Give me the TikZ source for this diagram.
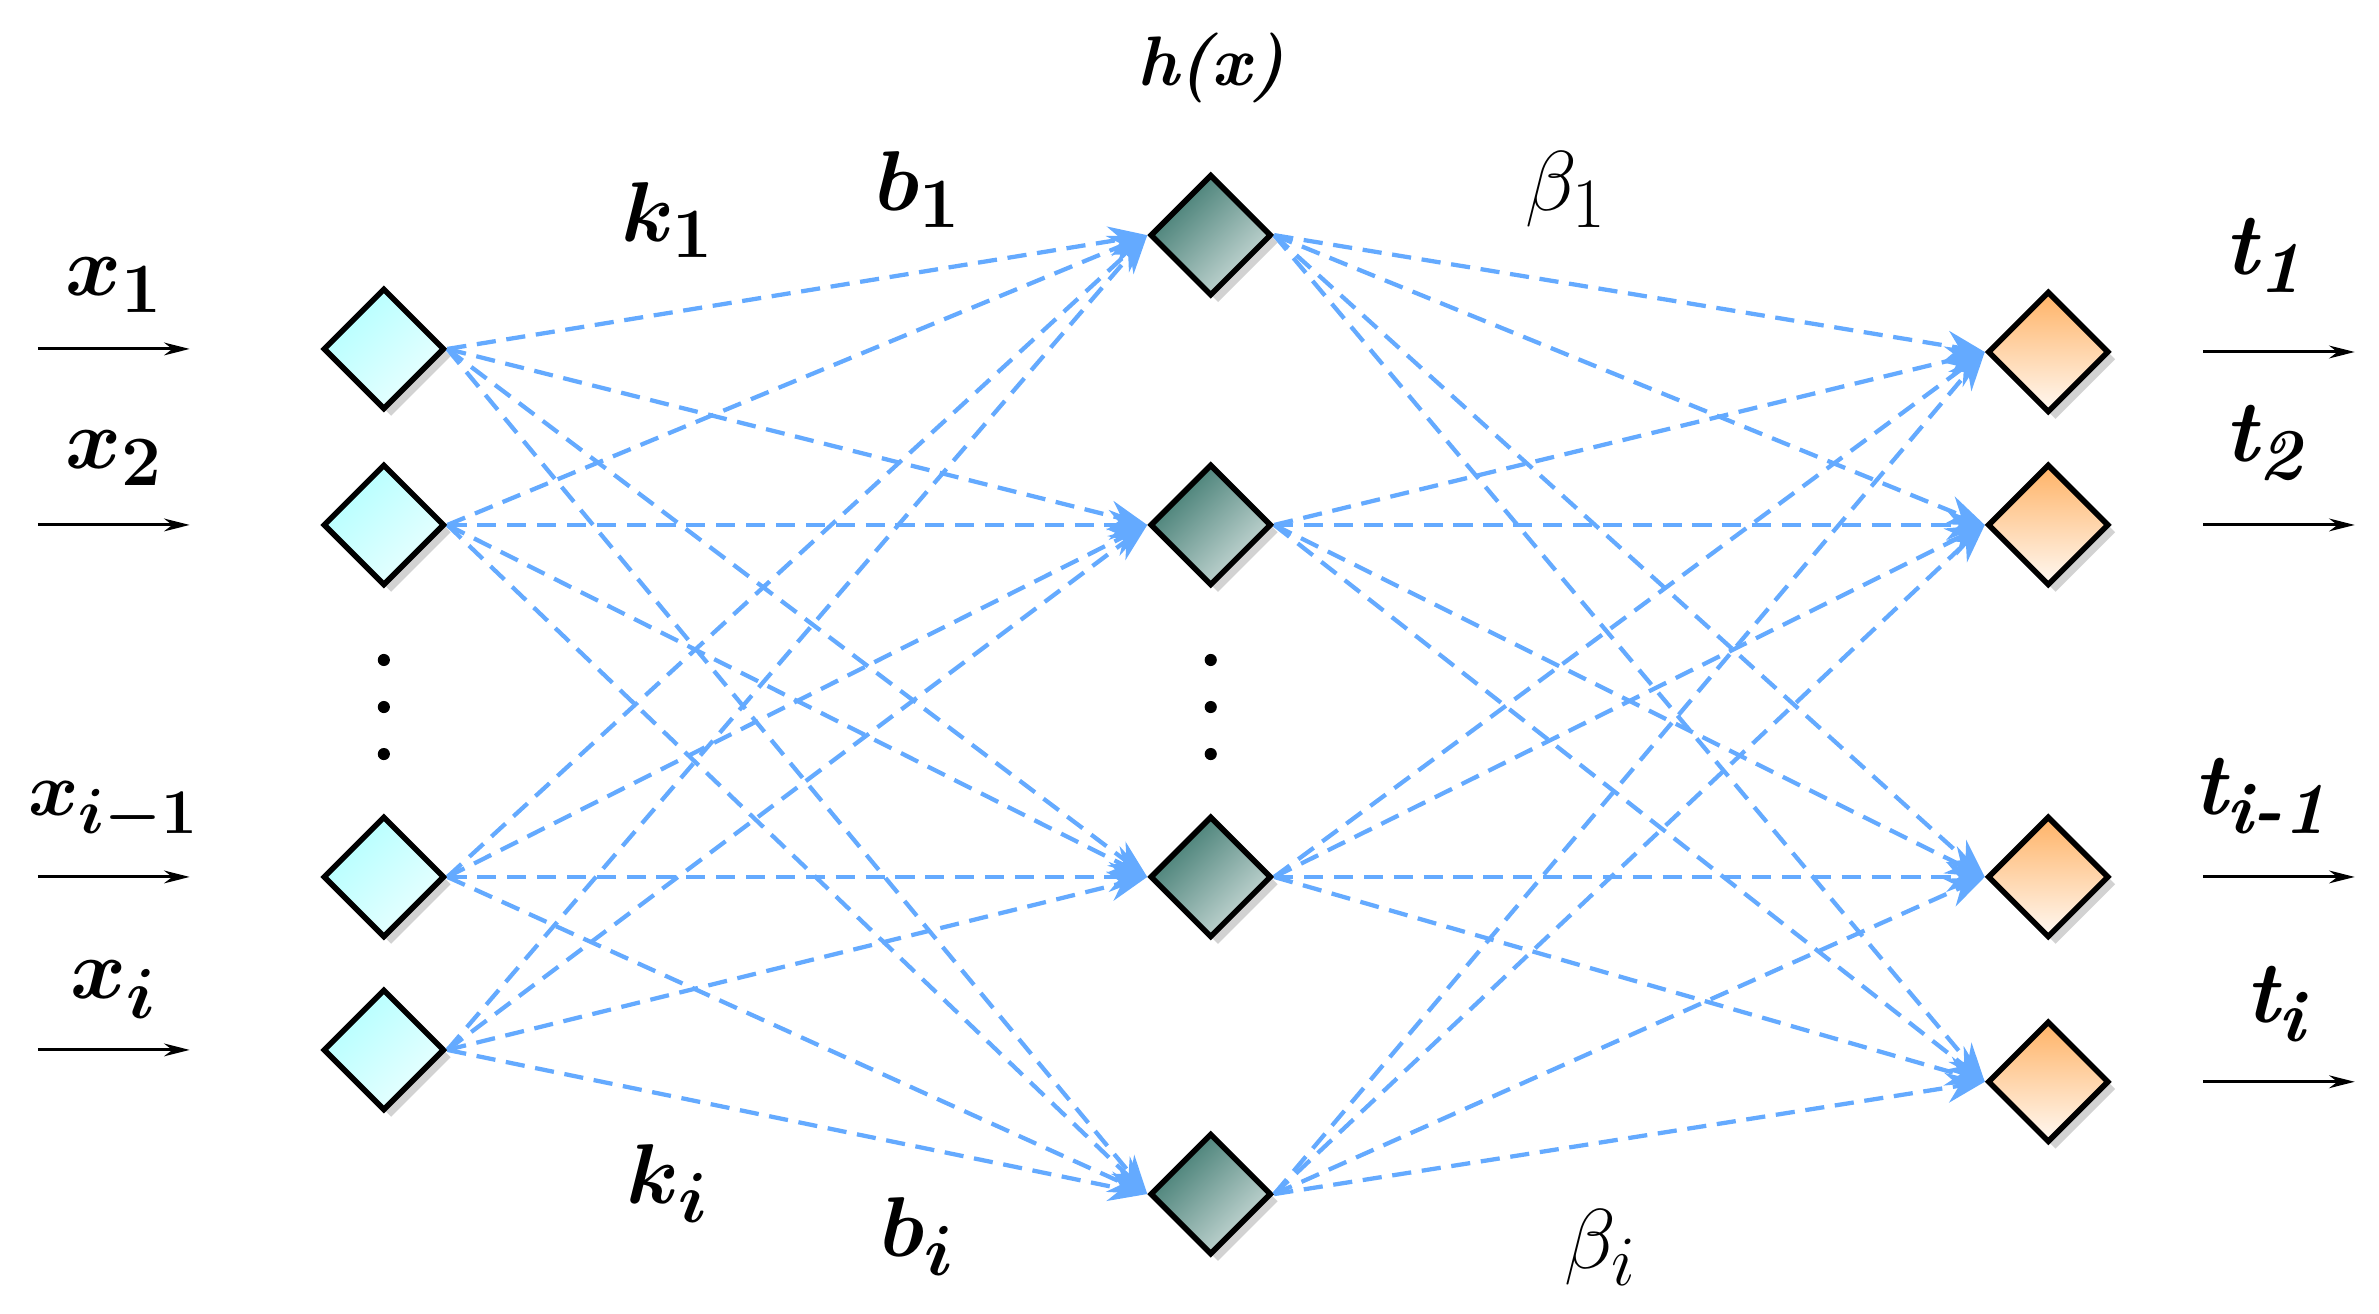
\documentclass[tikz,border=0pt]{standalone}
\usepackage{amsmath,bm}
\usetikzlibrary{shapes.geometric,shadows,arrows.meta}
\definecolor{edge}{RGB}{100,170,255}
\definecolor{hidc}{RGB}{60,120,110}
\begin{document}
\begin{tikzpicture}[x=0.025cm,y=-0.025cm,
 dia/.style={diamond,minimum width=2cm,minimum height=2cm,draw=black,line width=2.6pt,inner sep=0pt,
   drop shadow={shadow xshift=0.12cm,shadow yshift=-0.12cm,fill=gray!70}},
 inp/.style={dia,top color=cyan!30!white,bottom color=cyan!8!white,shading angle=45},
 hid/.style={dia,top color=hidc,bottom color=hidc!25!white,shading angle=45},
 outp/.style={dia,top color=orange!60!white,bottom color=orange!5!white,shading angle=0},
 con/.style={draw=edge,dashed,dash pattern=on 9pt off 5pt,line width=2pt,-{Stealth[length=18pt,width=14pt]}},
 io/.style={line width=1.4pt,-{Stealth[length=12pt,width=6pt]}},
 lab/.style={font=\Huge,scale=1.6,transform shape},
 tlab/.style={font=\Huge\bfseries\itshape,scale=1.65,transform shape}]
\useasboundingbox (0,0) rectangle (1568,866);
\foreach \n/\y in {1/230,2/346,3/578,4/692} \node[inp] (i\n) at (253,\y) {};
\foreach \n/\y in {1/155,2/346,3/578,4/787} \node[hid] (h\n) at (798,\y) {};
\foreach \n/\y in {1/232,2/346,3/578,4/713} \node[outp] (o\n) at (1350,\y) {};
\foreach \a in {1,...,4}{\foreach \b in {1,...,4}{
  \draw[con] (i\a.east) -- (h\b.west);
  \draw[con] (h\a.east) -- (o\b.west);}}
\foreach \n/\y in {1/230,2/346,3/578,4/692}{
  \coordinate (a\n) at (25,\y); \coordinate (ae\n) at (125,\y);
  \draw[io] (a\n) -- (ae\n);}
\foreach \n/\y in {1/232,2/346,3/578,4/713}{
  \coordinate (b\n) at (1452,\y); \coordinate (be\n) at (1552,\y);
  \draw[io] (b\n) -- (be\n);}
\node[lab] (lx1) at (75,188) {$\bm{x_1}$};
\node[lab] (lx2) at (75,302) {$\bm{x_2}$};
\node[lab,scale=0.9] (lx3) at (75,535) {$\bm{x_{i-1}}$};
\node[lab] (lx4) at (75,652) {$\bm{x_i}$};
\node[tlab] (t1) at (1492,168) {t\textsubscript{1}};
\node[tlab] (t2) at (1492,292) {t\textsubscript{2}};
\node[tlab] (t3) at (1490,525) {t\textsubscript{i-1}};
\node[tlab] (t4) at (1500,662) {t\textsubscript{i}};
\node[tlab,scale=0.8] (hx) at (798,45) {h(x)};
\node[lab] (k1) at (440,145) {$\bm{k_1}$};
\node[lab] (b1) at (605,125) {$\bm{b_1}$};
\node[lab] (be1) at (1032,125) {$\beta_1$};
\node[lab] (ki) at (440,780) {$\bm{k_i}$};
\node[lab] (bi) at (605,815) {$\bm{b_i}$};
\node[lab] (bei) at (1055,822) {$\beta_i$};
\foreach \y in {435,466,497}{\fill (253,\y) circle (4); \fill (798,\y) circle (4);}
\end{tikzpicture}
\end{document}
